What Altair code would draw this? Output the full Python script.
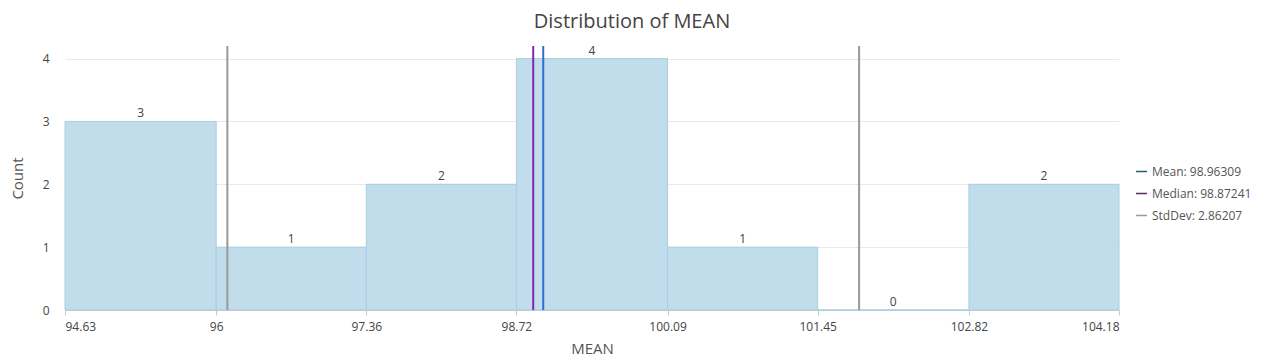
import altair as alt
import pandas as pd

bin_edges = [94.63, 96.0, 97.36, 98.72, 100.09, 101.45, 102.82, 104.18]
counts = [3, 1, 2, 4, 1, 0, 2]
mean_val = 98.96309
median_val = 98.87241
std_val = 2.86207

bars = pd.DataFrame({
    "start": bin_edges[:-1],
    "end": bin_edges[1:],
    "count": counts,
})
bars["mid"] = (bars["start"] + bars["end"]) / 2

stats = pd.DataFrame({
    "label": [f"Mean: {mean_val:.5f}", f"Median: {median_val:.5f}", f"StdDev: {std_val:.5f}"],
    "value": [mean_val, median_val, mean_val + std_val],
})
std_lines = pd.DataFrame({"value": [mean_val - std_val, mean_val + std_val]})

FONT = "Open Sans"
xscale = alt.Scale(domain=[bin_edges[0], bin_edges[-1]], nice=False, zero=False)
yscale = alt.Scale(domain=[0, 4.2], nice=False)

base_bars = alt.Chart(bars)
bar_layer = base_bars.mark_rect(fill="#c1ddec", stroke="#a9cde2", strokeWidth=1).encode(
    x=alt.X("start:Q", scale=xscale,
            axis=alt.Axis(values=bin_edges, title="MEAN", format=".2~f",
                          grid=False, domainColor="#c8c8c8", tickColor="#c8c8c8",
                          tickSize=5, labelPadding=6, titlePadding=9)),
    x2="end:Q",
    y=alt.Y("count:Q", scale=yscale,
            axis=alt.Axis(values=[0, 1, 2, 3, 4], format="d", title="Count", domain=False, ticks=False,
                          gridColor="#e9e9e9", labelPadding=16, titlePadding=17)),
    y2=alt.datum(0),
)
text_layer = base_bars.mark_text(dy=-8, fontSize=12, color="#444", font=FONT).encode(
    x="mid:Q", y="count:Q", text="count:Q"
)

std_layer = alt.Chart(std_lines).mark_rule(color="#999999", strokeWidth=2).encode(x="value:Q")
median_layer = alt.Chart(stats.iloc[[1]]).mark_rule(color="#7b2ab0", strokeWidth=2).encode(x="value:Q")
mean_layer = alt.Chart(stats.iloc[[0]]).mark_rule(color="#2f6fd4", strokeWidth=2).encode(x="value:Q")

legend_layer = alt.Chart(stats).mark_rule(opacity=0).encode(
    x="value:Q",
    color=alt.Color("label:N",
                    scale=alt.Scale(domain=list(stats["label"]),
                                    range=["#1f5f73", "#5a2a5e", "#9a9a9a"]),
                    legend=alt.Legend(title=None, orient="none", legendX=1070, legendY=119,
                                      symbolType="stroke", symbolSize=120, symbolStrokeWidth=1.5,
                                      symbolOpacity=1, labelFontSize=12, labelColor="#555",
                                      labelFont=FONT, labelLimit=0, rowPadding=9)),
)

chart = alt.layer(bar_layer, text_layer, legend_layer, std_layer, median_layer, mean_layer).properties(
    width=1054,
    height=264,
    title=alt.TitleParams("Distribution of MEAN", fontSize=20, font=FONT, color="#444",
                          fontWeight="normal", anchor="middle", dx=40, offset=13),
    autosize=alt.AutoSizeParams(type="none"),
    padding={"left": 57, "top": 38, "right": 135, "bottom": 50},
).configure_axis(
    labelFont=FONT, labelFontSize=12, labelColor="#444",
    titleFont=FONT, titleFontSize=15, titleColor="#555", titleFontWeight="normal",
).configure_view(stroke=None)

chart.save("out.html", embed_options={"renderer": "svg", "actions": False})
